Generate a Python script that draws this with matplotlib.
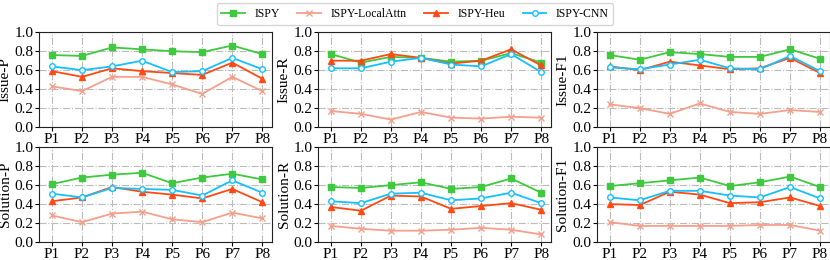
import matplotlib
matplotlib.use("Agg")
import matplotlib.pyplot as plt

plt.rcParams['font.family'] = ['Liberation Serif', 'DejaVu Serif']

labels = ["P1", "P2", "P3", "P4", "P5", "P6", "P7", "P8"]
methods = ["ISPY", "ISPY-LocalAttn", "ISPY-Heu", "ISPY-CNN"]
panels = ["Issue-P", "Issue-R", "Issue-F1", "Solution-P", "Solution-R", "Solution-F1"]

issue_p = [
    [0.76, 0.75, 0.84, 0.82, 0.80, 0.79, 0.86, 0.77],
    [0.43, 0.38, 0.53, 0.53, 0.45, 0.35, 0.53, 0.38],
    [0.59, 0.53, 0.62, 0.59, 0.57, 0.55, 0.68, 0.51],
    [0.64, 0.60, 0.64, 0.70, 0.58, 0.59, 0.73, 0.61],
]
issue_r = [
    [0.77, 0.68, 0.74, 0.73, 0.69, 0.70, 0.78, 0.68],
    [0.17, 0.14, 0.08, 0.16, 0.10, 0.09, 0.11, 0.10],
    [0.70, 0.70, 0.77, 0.73, 0.67, 0.70, 0.82, 0.65],
    [0.62, 0.62, 0.69, 0.73, 0.66, 0.64, 0.77, 0.58],
]
issue_f1 = [
    [0.76, 0.71, 0.79, 0.77, 0.74, 0.74, 0.82, 0.72],
    [0.24, 0.20, 0.14, 0.25, 0.16, 0.14, 0.18, 0.16],
    [0.64, 0.60, 0.69, 0.65, 0.61, 0.62, 0.73, 0.57],
    [0.63, 0.61, 0.66, 0.71, 0.62, 0.61, 0.75, 0.59],
]
solution_p = [
    [0.61, 0.68, 0.71, 0.73, 0.62, 0.68, 0.72, 0.66],
    [0.28, 0.21, 0.30, 0.32, 0.24, 0.21, 0.31, 0.25],
    [0.43, 0.47, 0.58, 0.53, 0.50, 0.46, 0.56, 0.42],
    [0.51, 0.47, 0.57, 0.56, 0.55, 0.49, 0.65, 0.52],
]
solution_r = [
    [0.58, 0.57, 0.60, 0.63, 0.56, 0.58, 0.67, 0.52],
    [0.17, 0.14, 0.12, 0.12, 0.13, 0.15, 0.13, 0.08],
    [0.37, 0.33, 0.49, 0.48, 0.35, 0.38, 0.41, 0.34],
    [0.43, 0.41, 0.51, 0.52, 0.44, 0.46, 0.52, 0.41],
]
solution_f1 = [
    [0.59, 0.62, 0.65, 0.68, 0.59, 0.63, 0.69, 0.58],
    [0.21, 0.17, 0.17, 0.17, 0.17, 0.18, 0.18, 0.12],
    [0.40, 0.39, 0.53, 0.50, 0.41, 0.42, 0.47, 0.38],
    [0.47, 0.44, 0.54, 0.54, 0.49, 0.47, 0.58, 0.46],
]
all_data = [issue_p, issue_r, issue_f1, solution_p, solution_r, solution_f1]

styles = [
    dict(color="#3fc93f", marker="s", markersize=4, mfc="#3fc93f"),
    dict(color="#f4a08c", marker="x", markersize=4, mfc="#f4a08c"),
    dict(color="#ff4a14", marker="^", markersize=4, mfc="#ff4a14"),
    dict(color="#14c0ff", marker="o", markersize=4, mfc="white"),
]

fig = plt.figure(figsize=(8.3, 2.6), dpi=100)
lefts = [0.047, 0.383, 0.719]
bottoms = [0.511, 0.069]
w, h = 0.281, 0.365

x = list(range(len(labels)))
handles = []
for i, (name, data) in enumerate(zip(panels, all_data)):
    ax = fig.add_axes([lefts[i % 3], bottoms[i // 3], w, h])
    for j, series in enumerate(data):
        ln, = ax.plot(x, series, lw=1.3, mew=1.0, label=methods[j], **styles[j])
        if i == 0:
            handles.append(ln)
    ax.set_ylim(0, 1.0)
    ax.set_xlim(-0.43, 7.33)
    ax.set_yticks([0, 0.2, 0.4, 0.6, 0.8, 1.0])
    ax.set_xticks(x)
    ax.set_xticklabels(labels)
    ax.tick_params(labelsize=11, length=3, pad=1)
    ax.set_ylabel(name, fontsize=11, labelpad=2)
    ax.grid(True, color="#bbbbbb", linestyle="-.", linewidth=0.8)
    ax.set_axisbelow(True)
    for s in ax.spines.values():
        s.set_color("#222222")

fig.legend(handles=handles, labels=methods, loc="upper center", ncol=4,
           bbox_to_anchor=(0.5, 1.01), fontsize=8.5, frameon=True,
           edgecolor="#cccccc", fancybox=True, handlelength=2.0,
           handletextpad=0.8, columnspacing=1.5, borderpad=0.4)

fig.savefig("out.png", dpi=100)
